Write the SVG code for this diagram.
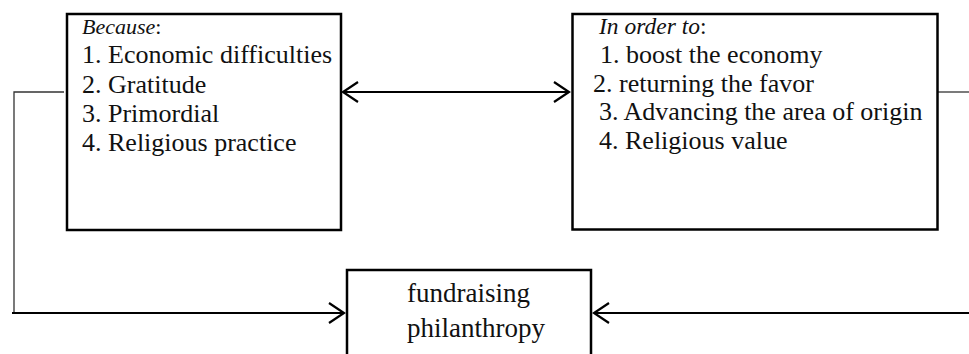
<svg xmlns="http://www.w3.org/2000/svg" width="969" height="354" viewBox="0 0 969 354">
<style>
  .box { fill: #fff; stroke: #000; stroke-width: 2.5; }
  .t { font-family: "Liberation Serif", "Times New Roman", serif; font-size: 26px; fill: #111; }
  .it { font-style: italic; }
  .c { font-family: "Liberation Serif", "Times New Roman", serif; font-size: 27px; fill: #111; }
  .thin { fill: none; stroke: #333; stroke-width: 1.3; }
  .main { fill: none; stroke: #000; stroke-width: 2.2; }
</style>
<defs>
  <marker id="arr" markerUnits="userSpaceOnUse" markerWidth="20" markerHeight="24" viewBox="-17 -12 20 24" refX="0" refY="0" orient="auto-start-reverse">
    <path d="M-15,-10 L0,0 L-15,10" fill="none" stroke="#000" stroke-width="2.2"/>
  </marker>
</defs>
<rect width="969" height="354" fill="#fff"/>
<g id="connectors">
  <polyline class="thin" points="64,92 14,92 14,313"/>
  <line class="main" x1="12" y1="313" x2="344" y2="313" marker-end="url(#arr)"/>
  <line class="thin" x1="938" y1="92" x2="969" y2="92"/>
  <line class="main" x1="969" y1="313" x2="594" y2="313" marker-end="url(#arr)"/>
  <line class="main" x1="343" y1="92" x2="569" y2="92" marker-start="url(#arr)" marker-end="url(#arr)"/>
</g>
<g id="because">
  <rect class="box" x="67" y="14" width="274" height="216"/>
  <text class="t" x="82" y="34"><tspan class="it" font-size="22">Because</tspan><tspan font-size="22">:</tspan></text>
  <text class="t" x="82" y="63">1. Economic difficulties</text>
  <text class="t" x="82" y="93">2. Gratitude</text>
  <text class="t" x="82" y="122">3. Primordial</text>
  <text class="t" x="82" y="151">4. Religious practice</text>
</g>
<g id="inorderto">
  <rect class="box" x="572.5" y="14" width="365" height="215.5"/>
  <text class="t" x="599" y="34"><tspan class="it" font-size="23.5">In order to</tspan><tspan font-size="23.5">:</tspan></text>
  <text class="t" x="600" y="63">1. boost the economy</text>
  <text class="t" x="593" y="92">2. returning the favor</text>
  <text class="t" x="599" y="120">3. Advancing the area of origin</text>
  <text class="t" x="599" y="149">4. Religious value</text>
</g>
<g id="fundraising">
  <rect class="box" x="347" y="270" width="244" height="100"/>
  <text class="c" x="407" y="302">fundraising</text>
  <text class="c" x="407" y="337">philanthropy</text>
</g>
</svg>
